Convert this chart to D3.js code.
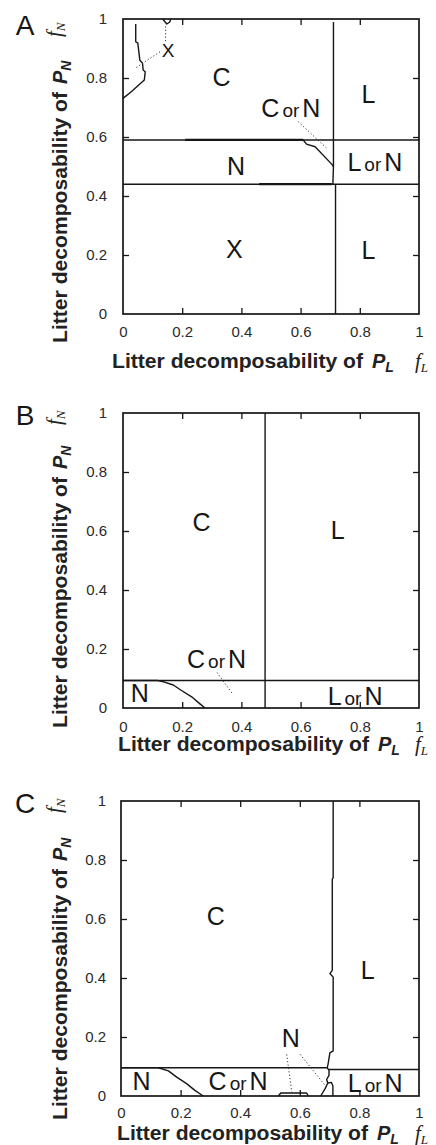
<!DOCTYPE html>
<html><head><meta charset="utf-8">
<script src="https://cdn.jsdelivr.net/npm/d3@7"></script>
<style>
html,body{margin:0;padding:0;background:#fff;}
svg{display:block;}
</style></head>
<body>
<svg id="chart" width="436" height="1145"></svg>
<script>
// ---------------- data ----------------
const tickValues = [0, 0.2, 0.4, 0.6, 0.8, 1];
const tickLabels = ["0", "0.2", "0.4", "0.6", "0.8", "1"];
const innerTicks = [0.2, 0.4, 0.6, 0.8];
const panelNames = ["A", "B", "C"];
const titleText = "Litter decomposability of";

// Panel A boundaries (fL, fN)
const aUpperLine = [[0, 0.59], [1, 0.59]];
const aLowerLine = [[0, 0.44], [1, 0.44]];
const aUpperThick = [[0.21, 0.59], [0.609, 0.59]];
const aLowerThick = [[0.46, 0.44], [0.705, 0.44]];
const aVertUpper = [[0.711, 0.99], [0.711, 0.5], [0.709, 0.44]];
const aVertLower = [[0.718, 0.44], [0.718, 0]];
const aCorNCurve = [[0.609, 0.59], [0.62, 0.576], [0.649, 0.567], [0.705, 0.508], [0.711, 0.5]];
const aXCurve = [[0.043, 0.983], [0.043, 0.923], [0.05, 0.918], [0.057, 0.86], [0.066, 0.85], [0.068, 0.827],
                 [0.075, 0.821], [0.072, 0.793], [0.041, 0.765], [0.029, 0.754], [0, 0.731]];
const aXLoop = [[0.134, 1], [0.148, 0.983], [0.158, 0.99], [0.161, 1]];
const aLeaders = [[[0.144, 0.975], [0.144, 0.925]], [[0.125, 0.889], [0.041, 0.833]], [[0.592, 0.652], [0.688, 0.562]]];
const aLabels = [["C", 0.333, 0.804], ["L", 0.829, 0.745], ["C or N", 0.567, 0.697], ["N", 0.382, 0.502],
                 ["L or N", 0.851, 0.516], ["X", 0.376, 0.22], ["L", 0.829, 0.216], ["X", 0.152, 0.895, 19]];

// Panel B boundaries
const bVert = [[0.48, 1], [0.48, 0]];
const bHoriz = [[0, 0.093], [1, 0.093]];
const bNCurve = [[0, 0.093], [0.118, 0.093], [0.14, 0.088], [0.17, 0.078], [0.195, 0.061], [0.232, 0.038], [0.26, 0.014], [0.277, 0]];
const bLeaders = [[[0.318, 0.12], [0.372, 0.045]]];
const bLabels = [["C", 0.265, 0.631], ["L", 0.725, 0.603], ["C or N", 0.316, 0.166], ["N", 0.057, 0.05], ["L or N", 0.784, 0.041]];

// Panel C boundaries
const cHorizLeft = [[0, 0.096], [0.692, 0.096]];
const cHorizRight = [[0.698, 0.09], [1, 0.09]];
const cVert = [[0.712, 1], [0.712, 0.74], [0.709, 0.735], [0.709, 0.426], [0.701, 0.415], [0.712, 0.403], [0.712, 0.153],
               [0.701, 0.146], [0.696, 0.115], [0.694, 0.104], [0.692, 0.096], [0.698, 0.087], [0.698, 0.07], [0.69, 0.056],
               [0.694, 0.044], [0.706, 0.046], [0.711, 0.035], [0.711, 0]];
const cBranch = [[0.694, 0.044], [0.685, 0.025], [0.67, 0]];
const cNCurve = [[0, 0.096], [0.12, 0.096], [0.131, 0.094], [0.159, 0.085], [0.187, 0.064], [0.22, 0.042], [0.248, 0.019], [0.276, 0]];
const cBump = [[0.528, 0], [0.536, 0.01], [0.623, 0.01], [0.629, 0]];
const cLeaders = [[[0.556, 0.141], [0.573, 0.014]], [[0.601, 0.141], [0.685, 0.036]]];
const cLabels = [["C", 0.318, 0.611], ["L", 0.828, 0.427], ["N", 0.57, 0.195], ["N", 0.069, 0.052],
                 ["C or N", 0.393, 0.052], ["L or N", 0.853, 0.045]];

// ---------------- layout ----------------
const panels = [
  {name: panelNames[0], box: {l: 123, r: 419, t: 19, b: 314}, xPad: 12.6, yPad: 16,
   xt: {x: 112, y: 368}, yt: {x: 67, y: 343}, fN: {x: 61, y: 37}, letter: {x: 25, y: 35},
   solid: [aUpperLine, aLowerLine, aVertUpper, aVertLower, aCorNCurve, aXCurve, aXLoop],
   thick: [aUpperThick, aLowerThick], dotted: aLeaders, labels: aLabels},
  {name: panelNames[1], box: {l: 123, r: 419, t: 413, b: 708}, xPad: 13.6, yPad: 16,
   xt: {x: 118, y: 751}, yt: {x: 67, y: 728}, fN: {x: 61, y: 425}, letter: {x: 25, y: 425},
   solid: [bVert, bHoriz, bNCurve], thick: [], dotted: bLeaders, labels: bLabels},
  {name: panelNames[2], box: {l: 121, r: 419, t: 801, b: 1096}, xPad: 11.6, yPad: 15,
   xt: {x: 117, y: 1140}, yt: {x: 67, y: 1120}, fN: {x: 61, y: 813}, letter: {x: 25, y: 813},
   solid: [cHorizLeft, cHorizRight, cVert, cBranch, cNCurve, cBump], thick: [], dotted: cLeaders, labels: cLabels}
];

const SANS = "'Liberation Sans', Arial, Helvetica, sans-serif";
const SERIF = "'Liberation Serif', 'Times New Roman', serif";
const INK = "#161616";
const TITLE_LEN = 251;

const svg = d3.select("#chart");

panels.forEach(p => {
  const x = d3.scaleLinear().domain([0, 1]).range([p.box.l, p.box.r]);
  const y = d3.scaleLinear().domain([0, 1]).range([p.box.b, p.box.t]);
  const g = svg.append("g");
  const line = d3.line().x(d => x(d[0])).y(d => y(d[1]));

  // axes (inner ticks)
  const fmt = (d) => tickLabels[tickValues.indexOf(d)];
  const styleAxis = (sel) => {
    sel.select(".domain").remove();
    sel.selectAll(".tick line").attr("stroke", INK).attr("stroke-width", 1.3);
    sel.selectAll(".tick text").attr("fill", "#2a2a2a").style("font-family", SANS).style("font-size", "15px");
  };
  g.append("g").attr("transform", `translate(0,${p.box.b})`)
    .call(d3.axisBottom(x).tickValues(tickValues).tickFormat(fmt).tickSize(-6).tickPadding(p.xPad))
    .call(styleAxis)
    .call(s => s.selectAll(".tick").filter(d => d === 0 || d === 1).select("line").remove());
  g.append("g").attr("transform", `translate(${p.box.l},0)`)
    .call(d3.axisLeft(y).tickValues(tickValues).tickFormat(fmt).tickSize(-6).tickPadding(p.yPad))
    .call(styleAxis)
    .call(s => s.selectAll(".tick").filter(d => d === 0 || d === 1).select("line").remove());
  g.append("g").attr("transform", `translate(0,${p.box.t})`)
    .call(d3.axisTop(x).tickValues(innerTicks).tickFormat("").tickSize(-6)).call(styleAxis);
  g.append("g").attr("transform", `translate(${p.box.r},0)`)
    .call(d3.axisRight(y).tickValues(innerTicks).tickFormat("").tickSize(-6)).call(styleAxis);

  // frame
  g.append("rect").attr("x", x(0)).attr("y", y(1)).attr("width", x(1) - x(0)).attr("height", y(0) - y(1))
    .attr("fill", "none").attr("stroke", INK).attr("stroke-width", 1.7);

  // boundaries
  p.solid.forEach(pts => g.append("path").attr("d", line(pts)).attr("fill", "none")
    .attr("stroke", INK).attr("stroke-width", 1.4).attr("stroke-linejoin", "round"));
  p.thick.forEach(pts => g.append("path").attr("d", line(pts)).attr("fill", "none")
    .attr("stroke", INK).attr("stroke-width", 2.2));
  p.dotted.forEach(pts => g.append("path").attr("d", line(pts)).attr("fill", "none")
    .attr("stroke", "#333").attr("stroke-width", 1).attr("stroke-dasharray", "1.2,2.2"));

  // region labels
  p.labels.forEach(lab => {
    const fs = lab[3] || 25;
    const t = g.append("text").attr("x", x(lab[1])).attr("y", y(lab[2]) + 0.358 * fs)
      .attr("text-anchor", "middle").attr("fill", INK).style("font-family", SANS).style("font-size", fs + "px");
    const parts = lab[0].split(" or ");
    if (parts.length === 2) {
      t.append("tspan").text(parts[0]);
      t.append("tspan").attr("dx", 3).style("font-size", "19px").text("or");
      t.append("tspan").attr("dx", 3).text(parts[1]);
    } else {
      t.text(lab[0]);
    }
  });

  // panel letter
  g.append("text").attr("x", p.letter.x).attr("y", p.letter.y).attr("text-anchor", "middle")
    .attr("fill", INK).style("font-family", SANS).style("font-size", "28px").text(p.name);

  // x-axis title
  g.append("text").attr("x", p.xt.x).attr("y", p.xt.y).attr("fill", "#222")
    .attr("textLength", TITLE_LEN).attr("lengthAdjust", "spacingAndGlyphs")
    .style("font-family", SANS).style("font-weight", "bold").style("font-size", "20px").text(titleText);
  const px = g.append("text").attr("x", p.xt.x + TITLE_LEN + 9).attr("y", p.xt.y).attr("fill", "#222")
    .style("font-family", SANS).style("font-weight", "bold").style("font-style", "italic").style("font-size", "20px");
  px.append("tspan").text("P");
  px.append("tspan").attr("dy", 4).style("font-size", "14px").text("L");
  const fx = g.append("text").attr("x", 415).attr("y", p.xt.y).attr("fill", "#222")
    .style("font-family", SERIF).style("font-style", "italic").style("font-size", "21px");
  fx.append("tspan").text("f");
  fx.append("tspan").attr("dy", 4).style("font-size", "13px").text("L");

  // y-axis title (rotated)
  g.append("text").attr("transform", `translate(${p.yt.x},${p.yt.y}) rotate(-90)`).attr("fill", "#222")
    .attr("textLength", TITLE_LEN).attr("lengthAdjust", "spacingAndGlyphs")
    .style("font-family", SANS).style("font-weight", "bold").style("font-size", "20px").text(titleText);
  const py = g.append("text").attr("transform", `translate(${p.yt.x},${p.yt.y - TITLE_LEN - 8}) rotate(-90)`).attr("fill", "#222")
    .style("font-family", SANS).style("font-weight", "bold").style("font-style", "italic").style("font-size", "20px");
  py.append("tspan").text("P");
  py.append("tspan").attr("dy", 4).style("font-size", "14px").text("N");
  const fy = g.append("text").attr("transform", `translate(${p.fN.x},${p.fN.y}) rotate(-90)`).attr("fill", "#222")
    .style("font-family", SERIF).style("font-style", "italic").style("font-size", "21px");
  fy.append("tspan").text("f");
  fy.append("tspan").attr("dy", 4).style("font-size", "13px").text("N");
});
</script>
</body></html>
